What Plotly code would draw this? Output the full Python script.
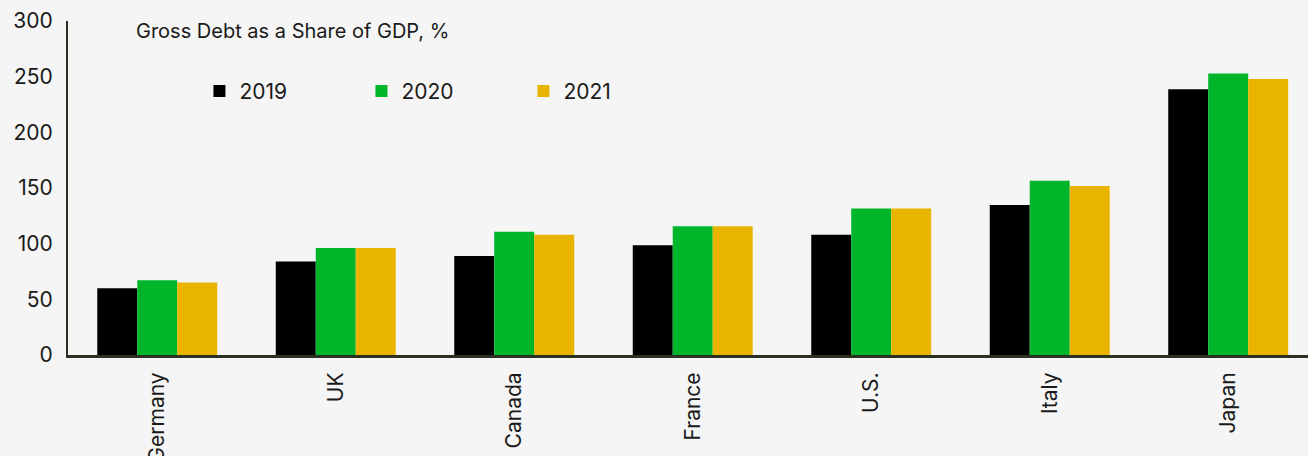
import plotly.graph_objects as go

countries = ["Germany", "UK", "Canada", "France", "U.S.", "Italy", "Japan"]
years = ["2019", "2020", "2021"]
debt_2019 = [60, 84, 89, 98.6, 108, 134.7, 238.7]
debt_2020 = [67.2, 96.1, 110.6, 115.7, 131.5, 156.4, 252.8]
debt_2021 = [65.1, 96.1, 108.1, 115.7, 131.5, 151.9, 248.0]
colors = ["#000000", "#00B52A", "#E8B400"]
y_ticks = [0, 50, 100, 150, 200, 250, 300]

FONT = "Inter"
TXT = "#1a1a1a"

fig = go.Figure()
for name, vals, col in zip(years, [debt_2019, debt_2020, debt_2021], colors):
    fig.add_trace(go.Bar(x=countries, y=vals, name=name, marker=dict(color=col, line=dict(width=0))))

fig.update_layout(
    width=1308, height=456,
    margin=dict(l=68, r=0, t=21, b=101),
    paper_bgcolor="#F5F5F5", plot_bgcolor="#F5F5F5",
    barmode="group", bargap=0.328, bargroupgap=0,
    font=dict(family=FONT, color=TXT),
    showlegend=True,
    legend=dict(orientation="h", x=0.106, y=0.789, xanchor="left", yanchor="middle",
                bgcolor="rgba(0,0,0,0)", font=dict(size=21, family=FONT, color=TXT),
                entrywidth=117, entrywidthmode="pixels", traceorder="normal"),
)
fig.add_annotation(text="Gross Debt as a Share of GDP, %", xref="paper", yref="paper",
                   x=(134 - 68) / 1240, y=1 - (31 - 21) / 334, xanchor="left", yanchor="middle",
                   showarrow=False, font=dict(size=20, family=FONT, color=TXT))

fig.update_yaxes(range=[0, 300], tickvals=y_ticks, showgrid=False, zeroline=False,
                 showline=True, linecolor="#2b3120", linewidth=2,
                 ticks="", ticklabelstandoff=9, tickfont=dict(size=21, family=FONT, color=TXT))
fig.update_xaxes(range=[-0.5, 6.447], showgrid=False, showline=True, linecolor="#2b3120", linewidth=3,
                 ticks="", tickangle=-90, automargin=False, ticklabelstandoff=6,
                 tickfont=dict(size=21, family=FONT, color=TXT))

fig.write_html("out.html")
